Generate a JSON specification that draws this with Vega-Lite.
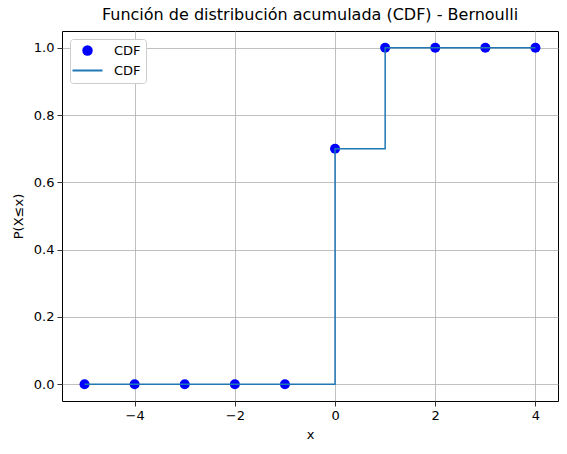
{
  "$schema": "https://vega.github.io/schema/vega-lite/v6.json",
  "width": 496,
  "height": 370,
  "autosize": {"type": "none"},
  "padding": {"left": 62, "top": 31, "right": 9, "bottom": 53},
  "background": "white",
  "config": {
    "font": "DejaVu Sans",
    "view": {"stroke": "black", "strokeWidth": 1},
    "axis": {
      "domain": false,
      "grid": true,
      "gridColor": "#b0b0b0",
      "gridWidth": 0.8,
      "tickColor": "black",
      "tickSize": 5,
      "tickWidth": 0.8,
      "labelColor": "black",
      "labelFontSize": 13,
      "labelPadding": 3,
      "titleFontSize": 13,
      "titleFontWeight": "normal",
      "titleColor": "black"
    }
  },
  "title": {
    "text": "Función de distribución acumulada (CDF) - Bernoulli",
    "fontSize": 16,
    "fontWeight": "normal",
    "color": "black",
    "offset": 8
  },
  "data": {
    "values": [
      {"x": -5, "p": 0},
      {"x": -4, "p": 0},
      {"x": -3, "p": 0},
      {"x": -2, "p": 0},
      {"x": -1, "p": 0},
      {"x": 0, "p": 0.7},
      {"x": 1, "p": 1},
      {"x": 2, "p": 1},
      {"x": 3, "p": 1},
      {"x": 4, "p": 1}
    ]
  },
  "encoding": {
    "x": {
      "field": "x",
      "type": "quantitative",
      "title": "x",
      "scale": {"domain": [-5.45, 4.45], "nice": false, "zero": false},
      "axis": {"values": [-4, -2, 0, 2, 4], "format": "d", "titlePadding": 6}
    },
    "y": {
      "field": "p",
      "type": "quantitative",
      "title": "P(X≤x)",
      "scale": {"domain": [-0.05, 1.05], "nice": false, "zero": false},
      "axis": {"values": [0, 0.2, 0.4, 0.6, 0.8, 1.0], "format": ".1f", "titlePadding": 8}
    }
  },
  "layer": [
    {
      "mark": {"type": "point", "filled": true, "size": 100, "opacity": 1},
      "encoding": {
        "color": {
          "datum": "pts",
          "type": "nominal",
          "scale": {"domain": ["pts", "line"], "range": ["#0000ff", "#1f77b4"]},
          "legend": {
            "orient": "none",
            "legendX": 8,
            "legendY": 8,
            "title": null,
            "labelExpr": "'CDF'",
            "labelFontSize": 13,
            "labelColor": "black",
            "labelOffset": 20,
            "symbolOffset": 6,
            "rowPadding": 6,
            "padding": 5,
            "strokeColor": "#cccccc",
            "fillColor": "white",
            "cornerRadius": 3,
            "symbolType": {"expr": "datum.value === 'pts' ? 'circle' : 'stroke'"},
            "symbolSize": {"expr": "datum.value === 'pts' ? 110 : 900"},
            "symbolFillColor": {"expr": "datum.value === 'pts' ? '#0000ff' : 'transparent'"},
            "symbolStrokeColor": {"expr": "datum.value === 'pts' ? '#0000ff' : '#1f77b4'"},
            "symbolStrokeWidth": {"expr": "datum.value === 'pts' ? 0 : 2"}
          }
        }
      }
    },
    {
      "mark": {"type": "line", "interpolate": "step-after", "strokeWidth": 1.5, "color": "#1f77b4"},
      "encoding": {}
    }
  ]
}
